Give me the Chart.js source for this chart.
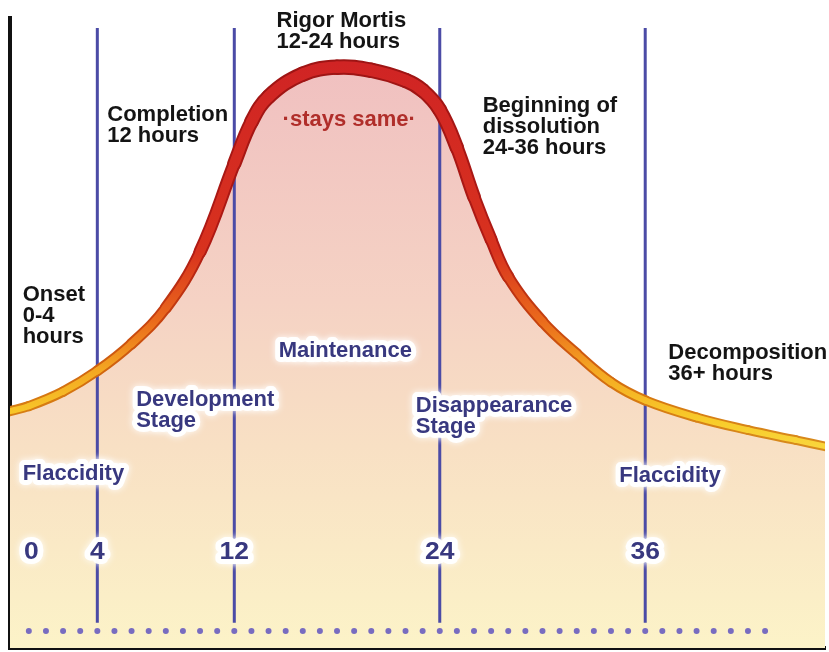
<!DOCTYPE html>
<html>
<head>
<meta charset="utf-8">
<script src="https://cdn.jsdelivr.net/npm/chart.js@4.4.1/dist/chart.umd.min.js"></script>
<style>
  html, body { margin: 0; padding: 0; background: #fff; }
  #wrap { width: 829px; height: 652px; }
</style>
</head>
<body>
<div id="wrap"><canvas id="chart" width="829" height="652"></canvas></div>
<script>
// stiffness curve (hours after death -> relative stiffness)
var curveHours = [-1.1, 0, 2, 4, 6, 8, 10, 12, 13, 14, 16, 18, 20, 22, 23, 24, 25, 26, 27, 28, 30, 32, 34, 36, 39, 42, 44.8, 46.5];
var curveStiffness = [37.6, 38.4, 40.7, 44.0, 48.3, 54.0, 62.9, 76.9, 83.5, 87.5, 91.1, 92.2, 91.7, 90.1, 88.5, 85.4, 79.4, 71.6, 64.8, 58.9, 51.8, 46.7, 42.2, 39.3, 36.6, 34.6, 33.0, 32.0];

var hourMarks = [4, 12, 24, 36];
var tickHours = [0.15, 4, 12, 24, 36];
var tickLabels = ['0', '4', '12', '24', '36'];
var dotHours = [0, 1, 2, 3, 4, 5, 6, 7, 8, 9, 10, 11, 12, 13, 14, 15, 16, 17, 18, 19, 20, 21,
                22, 23, 24, 25, 26, 27, 28, 29, 30, 31, 32, 33, 34, 35, 36, 37, 38, 39, 40, 41, 42, 43];

var markTop = 98.4, markBottom = 4.0, dotLevel = 2.7, tickLevel = 14.2;

var BLACK = '#141414', BLUE = '#38387f', RED = '#b02e2a';
var FONT = '"Liberation Sans", Arial, Helvetica, sans-serif';

// text notes: [lines, hour, level of first baseline, colour, halo]
var notes = [
	[['Rigor Mortis', '12-24 hours'], 14.47, 98.6, BLACK, false],
	[['Completion', '12 hours'], 4.58, 83.7, BLACK, false],
	[['Onset', '0-4', 'hours'], -0.36, 55.1, BLACK, false],
	[['Beginning of', 'dissolution', '24-36 hours'], 26.51, 85.1, BLACK, false],
	[['Decomposition', '36+ hours'], 37.35, 45.9, BLACK, false],
	[['\u00b7stays same\u00b7'], 14.82, 82.8, RED, false],
	[['Maintenance'], 14.59, 46.2, BLUE, true],
	[['Development', 'Stage'], 6.27, 38.4, BLUE, true],
	[['Disappearance', 'Stage'], 22.6, 37.5, BLUE, true],
	[['Flaccidity'], -0.36, 26.6, BLUE, true],
	[['Flaccidity'], 34.48, 26.4, BLUE, true]
];

function pts(xs, ys) {
	var out = [];
	for (var i = 0; i < xs.length; i++) out.push({x: xs[i], y: ys[i]});
	return out;
}

function grad(chart, stops) {
	var area = chart.chartArea;
	if (!area) return null;
	var g = chart.ctx.createLinearGradient(0, area.top, 0, area.bottom);
	stops.forEach(function(s) { g.addColorStop(s[0], s[1]); });
	return g;
}

var fillStops = [[0, '#efbaba'], [0.07, '#f0c0c0'], [0.45, '#f5d2c4'], [0.68, '#f8e0c4'], [1, '#fcf3c8']];
var edgeStops = [[0, '#9a1212'], [0.07, '#9e1414'], [0.37, '#b01a14'], [0.49, '#c8460f'], [0.6, '#d67810'], [0.7, '#d89020'], [1, '#d89020']];
var coreStops = [[0, '#d02424'], [0.07, '#d02424'], [0.37, '#d8321e'], [0.48, '#ea6a1c'], [0.56, '#f4a822'], [0.64, '#f8cc2a'], [0.7, '#f9da44'], [1, '#f9da44']];

function segWidth(base) {
	return function(ctx) {
		var v = (ctx.p0.parsed.y + ctx.p1.parsed.y) / 2;
		return base + (v - 32) / 60 * 6;
	};
}

var datasets = [];
datasets.push({
	data: pts(curveHours, curveStiffness),
	borderColor: function(c) { return grad(c.chart, coreStops); },
	borderWidth: 7,
	segment: { borderWidth: segWidth(5.5) },
	borderCapStyle: 'round', borderJoinStyle: 'round',
	tension: 0.4,
	pointRadius: 0, fill: false, order: 0
});
datasets.push({
	data: pts(curveHours, curveStiffness),
	borderColor: function(c) { return grad(c.chart, edgeStops); },
	borderWidth: 13,
	segment: { borderWidth: segWidth(9.5) },
	borderCapStyle: 'round', borderJoinStyle: 'round',
	tension: 0.4,
	pointRadius: 0, fill: false, order: 1
});
// area under the curve, kept apart so the fill is one smooth shape
datasets.push({
	data: pts(curveHours, curveStiffness),
	borderWidth: 0,
	borderColor: 'rgba(0,0,0,0)',
	backgroundColor: function(c) { return grad(c.chart, fillStops); },
	tension: 0.4,
	pointRadius: 0, fill: 'start', order: 4
});
hourMarks.forEach(function(h) {
	datasets.push({
		data: [{x: h, y: markTop}, {x: h, y: markBottom}],
		borderColor: '#4b4ba6', borderWidth: 3, pointRadius: 0, fill: false, order: 2
	});
});
datasets.push({
	data: dotHours.map(function(h) { return {x: h, y: dotLevel}; }),
	showLine: false, pointRadius: 3, pointBorderWidth: 0,
	pointBackgroundColor: '#786cc0', order: 3
});

var notePlugin = {
	id: 'notes',
	afterDatasetsDraw: function(chart) {
		var ctx = chart.ctx, xs = chart.scales.x, ys = chart.scales.y;
		var items = [];
		notes.forEach(function(n) {
			n[0].forEach(function(t, i) {
				items.push({t: t, x: xs.getPixelForValue(n[1]), y: ys.getPixelForValue(n[2]) + i * 21,
					color: n[3], halo: n[4], size: 22, align: 'left', sx: 1});
			});
		});
		tickHours.forEach(function(h, i) {
			items.push({t: tickLabels[i], x: xs.getPixelForValue(h), y: ys.getPixelForValue(tickLevel),
				color: BLUE, halo: true, size: 23, align: 'center', sx: 1.15});
		});
		function put(it, fn) {
			ctx.save();
			ctx.translate(it.x, it.y);
			ctx.scale(it.sx, 1);
			ctx.font = 'bold ' + it.size + 'px ' + FONT;
			ctx.textAlign = it.align;
			ctx.textBaseline = 'alphabetic';
			fn(it.t);
			ctx.restore();
		}
		ctx.save();
		ctx.lineJoin = 'round';
		// halos first so they never cover neighbouring text
		items.forEach(function(it) {
			if (!it.halo) return;
			put(it, function(t) {
				ctx.shadowColor = 'rgba(255,255,255,1)';
				ctx.shadowBlur = 7;
				ctx.strokeStyle = 'rgba(255,255,255,0.95)';
				ctx.lineWidth = 10;
				ctx.strokeText(t, 0, 0);
			});
		});
		items.forEach(function(it) {
			put(it, function(t) {
				ctx.fillStyle = it.color;
				ctx.fillText(t, 0, 0);
			});
		});
		ctx.restore();
	}
};

new Chart(document.getElementById('chart'), {
	type: 'line',
	data: { datasets: datasets },
	options: {
		responsive: false,
		animation: false,
		layout: { padding: { left: 10, top: 18, right: 0, bottom: 2 } },
		plugins: {
			legend: { display: false },
			tooltip: { enabled: false },
			filler: { drawTime: 'beforeDatasetsDraw' }
		},
		scales: {
			x: {
				type: 'linear', min: -1.1, max: 46.5, z: 1,
				ticks: { display: false },
				grid: { display: false, drawTicks: false },
				border: { display: true, color: '#111', width: 4 }
			},
			y: {
				min: 0, max: 100, z: 1,
				ticks: { display: false },
				grid: { display: false, drawTicks: false },
				border: { display: true, color: '#111', width: 4 }
			}
		}
	},
	plugins: [notePlugin]
});
</script>
</body>
</html>
